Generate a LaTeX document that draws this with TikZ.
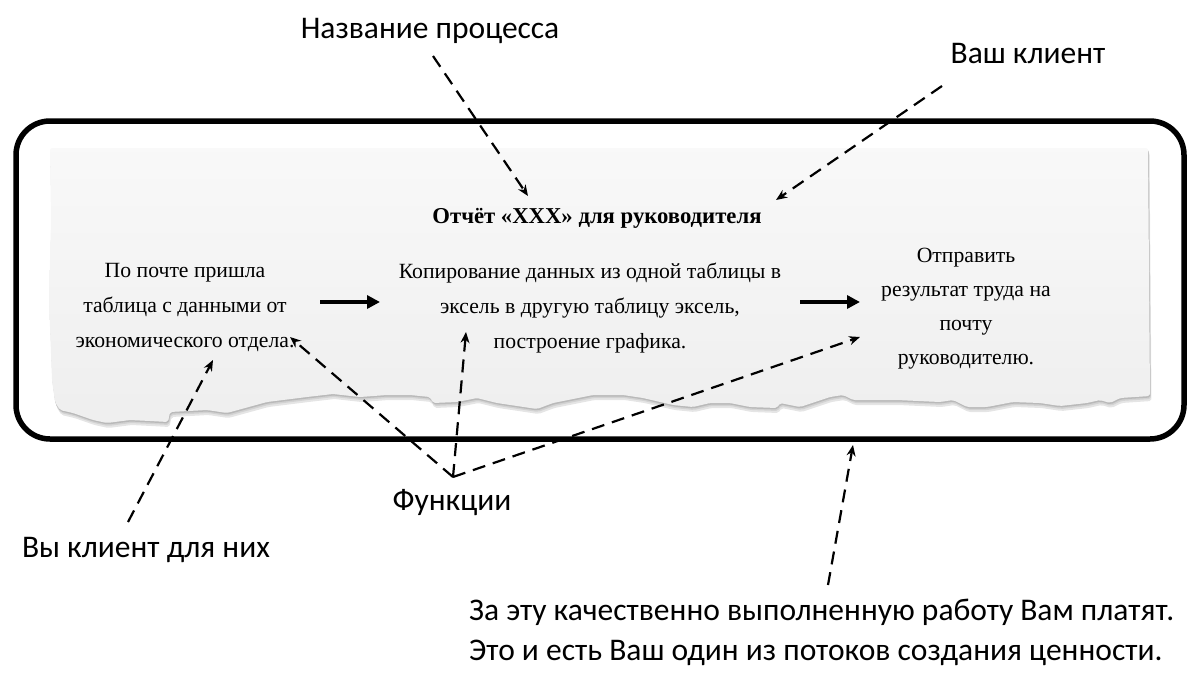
\documentclass[tikz,border=0pt]{standalone}
\usepackage{fontspec}
\setmainfont{Liberation Serif}
\newfontfamily\labfont{Carlito}
\usetikzlibrary{arrows.meta}
\begin{document}
\begin{tikzpicture}[x=1pt,y=-1pt,
  ptext/.style={align=center,font=\fontsize{21.7}{35}\selectfont,inner sep=0pt},
  ltext/.style={font=\labfont\fontsize{31.5}{40}\selectfont,inner sep=0pt},
  da/.style={dashed,dash pattern=on 13pt off 8pt,line width=2.2pt,-{Stealth[length=11pt,width=9pt]}},
  fa/.style={line width=4pt,-{Triangle[length=13pt,width=13pt]}}]
\useasboundingbox (0,0) rectangle (1200,688);
\def\papershape{[rounded corners=2pt] (50,148) -- (1148,148) -- (1150,396) -- (1120,398) -- (1110,403) -- (1100,400) -- (1087,403) -- (1060,406) -- (1040,403) -- (1013,402) -- (987,407) -- (967,407) -- (953,400) -- (940,402) -- (897,400) -- (853,400) -- (843,395) -- (830,397) -- (800,407) -- (780,403) -- (777,408) -- (750,407) -- (730,403) -- (710,403) -- (693,407) -- (673,405) -- (643,398) -- (623,395) -- (593,395) -- (553,403) -- (537,409) -- (497,403) -- (477,398) -- (457,402) -- (433,403) -- (430,397) -- (410,395) -- (387,395) -- (360,397) -- (333,394) -- (307,397) -- (267,402) -- (227,413) -- (207,410) -- (170,412) -- (168,422) -- (150,421) -- (130,420) -- (107,423) -- (93,420) -- (73,413) -- (60,410) -- (55,402) -- (52,380) -- (49,300) -- (51,220) -- cycle}
% paper shadow
\fill[gray!20,xshift=1.5pt,yshift=-5pt] \papershape;
\fill[gray!35,xshift=1pt,yshift=-3pt] \papershape;
\fill[gray!55,xshift=0.5pt,yshift=-1.5pt] \papershape;
\shade[top color=gray!5,bottom color=gray!13] \papershape;
% outer frame
\draw[line width=5.5pt,rounded corners=34pt] (16,121) rectangle (1184,439);
% paper texts
\node[font=\bfseries\fontsize{22.7}{26}\selectfont,inner sep=0pt] (title) at (597,218) {Отчёт «ХХХ» для руководителя};
\node[ptext] (left) at (185,307) {По почте пришла\\таблица с данными от\\экономического отдела.};
\node[ptext] (mid) at (590,308) {Копирование данных из одной таблицы в\\эксель в другую таблицу эксель,\\построение графика.};
\node[ptext,font=\fontsize{21.7}{34}\selectfont] (right) at (966,309) {Отправить\\результат труда на\\почту\\руководителю.};
% flow arrows
\coordinate (a1s) at (320,302); \coordinate (a1e) at (380,302);
\coordinate (a2s) at (800,302); \coordinate (a2e) at (860,302);
\draw[fa] (a1s) -- (a1e);
\draw[fa] (a2s) -- (a2e);
% outside labels
\node[ltext] (proc) at (430,31) {Название процесса};
\node[ltext] (client) at (1028,54) {Ваш клиент};
\node[ltext] (func) at (452,503) {Функции};
\node[ltext] (you) at (146,550) {Вы клиент для них};
\node[ltext,align=left,anchor=west] (pay) at (469,632) {За эту качественно выполненную работу Вам платят.\\Это и есть Ваш один из потоков создания ценности.};
% dashed arrows
\coordinate (procS) at (433,56); \coordinate (procE) at (528,196);
\coordinate (cliS) at (942,86); \coordinate (cliE) at (776,200);
\coordinate (youS) at (128,522); \coordinate (youE) at (213,360);
\coordinate (fS) at (453,477);
\coordinate (fE1) at (290,337); \coordinate (fE2) at (466,332); \coordinate (fE3) at (860,337);
\coordinate (payS) at (828,585); \coordinate (payE) at (853,445);
\draw[da] (procS) -- (procE);
\draw[da] (cliS) -- (cliE);
\draw[da] (youS) -- (youE);
\draw[da] (fS) -- (fE1);
\draw[da] (fS) -- (fE2);
\draw[da] (fS) -- (fE3);
\draw[da] (payS) -- (payE);
\end{tikzpicture}
\end{document}
